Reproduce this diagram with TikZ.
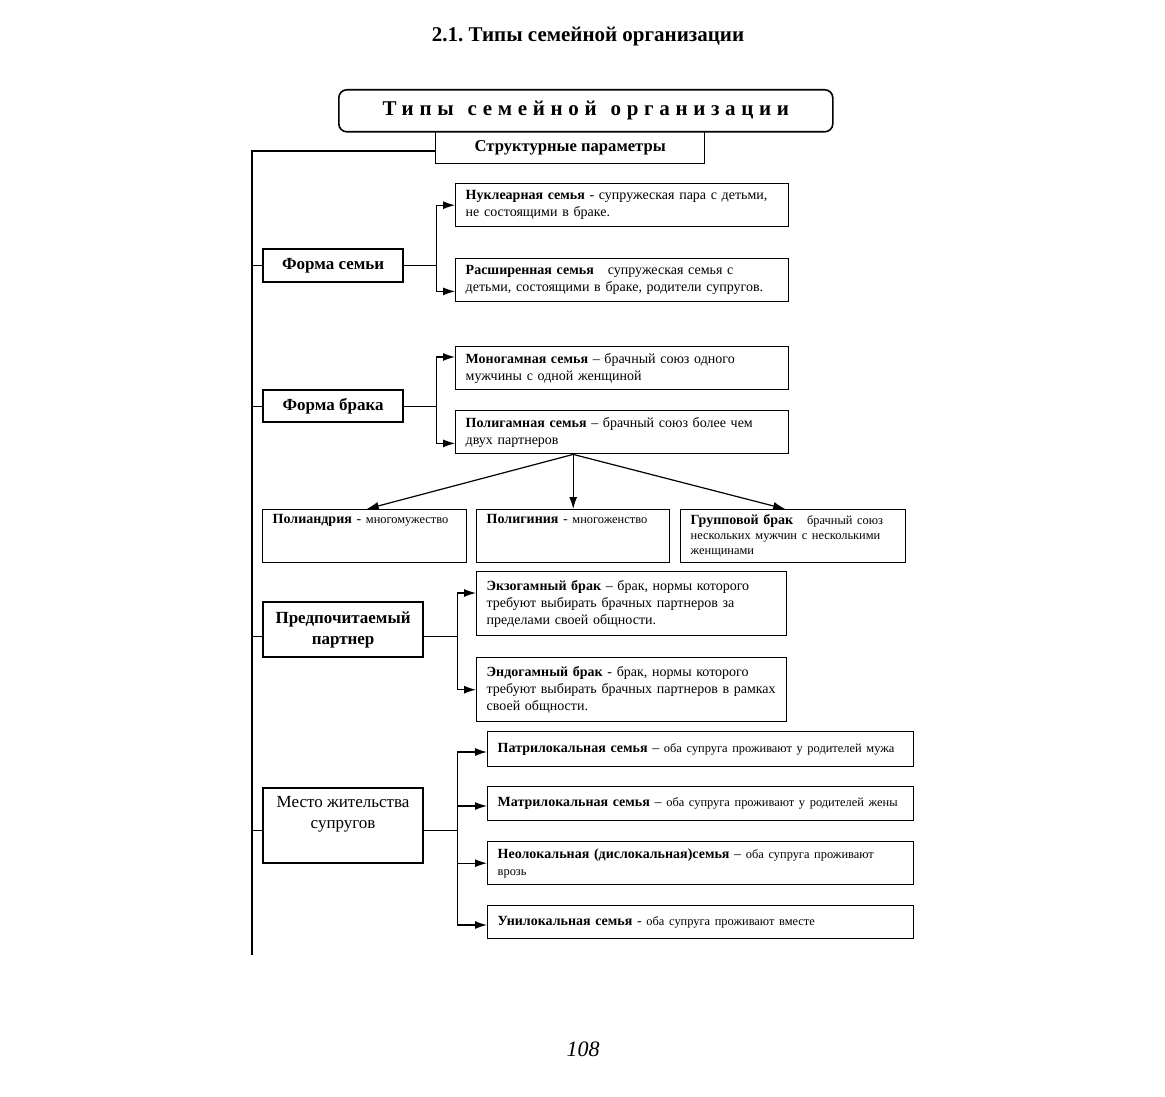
\documentclass[tikz,border=0pt]{standalone}
\usepackage{fontspec}
\setmainfont{Liberation Serif}
\newfontfamily\spacedfont[LetterSpace=27]{Liberation Serif}
\usetikzlibrary{arrows.meta,calc}
\newcommand\smtxt[1]{{\fontsize{6.2}{7.5}\selectfont #1}}
\frenchspacing
\begin{document}
\begin{tikzpicture}[x=0.5pt,y=-0.5pt,
  box/.style={draw, line width=0.7pt, anchor=north west, inner xsep=5pt, inner ysep=0pt, align=left, font=\fontsize{7}{8.4}\selectfont},
  lbl/.style={draw, line width=1.1pt, anchor=north west, inner sep=0pt, align=center, font=\fontsize{8.5}{10.5}\selectfont\bfseries},
  conn/.style={line width=0.6pt},
  arr/.style={conn, -{Latex[length=6pt,width=4pt]}}]
\useasboundingbox (0,0) rectangle (1165,1096);

\node[font=\fontsize{10.5}{12}\selectfont\bfseries] (title) at (588,37) {2.1. Типы семейной организации};
\node[font=\fontsize{11}{12}\selectfont\itshape] (page) at (583,1049) {108};

\node[draw, line width=0.8pt, rounded corners=4pt, anchor=north west, minimum width=247pt, minimum height=21pt, inner sep=0pt,
  font=\fontsize{10.5}{12}\selectfont] (top) at (338,89) {\spacedfont\bfseries Типы\hspace{7pt}семейной\hspace{7pt}организации};
\node[draw, line width=0.7pt, anchor=north west, minimum width=134.5pt, minimum height=16pt, inner sep=0pt,
  font=\fontsize{8.3}{10}\selectfont\bfseries] (struct) at (435,131) {Структурные параметры};

% label boxes
\node[lbl, minimum width=70pt, minimum height=16.5pt] (fs) at (262,248) {Форма семьи};
\node[lbl, minimum width=70pt, minimum height=16pt] (fb) at (262,389) {Форма брака};
\node[lbl, minimum width=80pt, minimum height=27.5pt] (pp) at (262,601) {Предпочитаемый\\партнер};
\node[lbl, minimum width=80pt, minimum height=37.5pt, font=\fontsize{8.5}{10.5}\selectfont] (mz) at (262,787) {Место жительства\\супругов\\\strut};

% content boxes
\node[box, text width=156.5pt, minimum height=21.5pt] (nuc) at (455,183) {\textbf{Нуклеарная семья} - супружеская пара с детьми,\\не состоящими в браке.};
\node[box, text width=156.5pt, minimum height=21.5pt] (ras) at (455,258) {\textbf{Расширенная семья}\quad супружеская семья с\\детьми, состоящими в браке, родители супругов.};
\node[box, text width=156.5pt, minimum height=21.5pt] (mono) at (455,346) {\textbf{Моногамная семья} – брачный союз одного\\мужчины с одной женщиной};
\node[box, text width=156.5pt, minimum height=21.5pt] (poly) at (455,410) {\textbf{Полигамная семья} – брачный союз более чем\\двух партнеров};

\node[box, text width=92pt, minimum height=26.5pt, font=\fontsize{7}{7.5}\selectfont] (pand) at (262,509) {\textbf{Полиандрия} - \smtxt{многомужество}\\\strut\\\strut};
\node[box, text width=86.5pt, minimum height=26.5pt, font=\fontsize{7}{7.5}\selectfont] (pgin) at (476,509) {\textbf{Полигиния} - \smtxt{многоженство}\\\strut\\\strut};
\node[box, text width=102.5pt, minimum height=26.5pt, font=\fontsize{7}{7.5}\selectfont] (grup) at (680,509) {\textbf{Групповой брак}\quad\smtxt{брачный союз}\\\smtxt{нескольких мужчин с несколькими}\\\smtxt{женщинами}};

\node[box, text width=145pt, minimum height=32pt] (exo) at (476,571) {\textbf{Экзогамный брак} – брак, нормы которого\\требуют выбирать брачных партнеров за\\пределами своей общности.};
\node[box, text width=145pt, minimum height=32pt] (endo) at (476,657) {\textbf{Эндогамный брак} - брак, нормы которого\\требуют выбирать брачных партнеров в рамках\\своей общности.};

\node[box, text width=203pt, minimum height=17.5pt] (patr) at (487,731) {\textbf{Патрилокальная семья} – \smtxt{оба супруга проживают у родителей мужа}};
\node[box, text width=203pt, minimum height=17pt] (matr) at (487,786) {\textbf{Матрилокальная семья} – \smtxt{оба супруга проживают у родителей жены}};
\node[box, text width=203pt, minimum height=21.5pt] (neo) at (487,841) {\textbf{Неолокальная (дислокальная)семья} – \smtxt{оба супруга проживают}\\\smtxt{врозь}};
\node[box, text width=203pt, minimum height=16.5pt] (uni) at (487,905) {\textbf{Унилокальная семья} - \smtxt{оба супруга проживают вместе}};

% spine
\coordinate (sTop) at (252,151);
\coordinate (sBot) at (252,955);
\draw[conn] (sTop -| struct.west) -- (sTop) -- (sBot);
\draw[conn] (sTop |- fs.west) -- (fs.west);
\draw[conn] (sTop |- fb.west) -- (fb.west);
\coordinate (ppL) at ($(pp.west)+(0,7)$);
\draw[conn] (sTop |- ppL) -- (ppL);
\coordinate (mzL) at ($(mz.west)+(0,5)$);
\draw[conn] (sTop |- mzL) -- (mzL);

% form of family
\coordinate (j1) at ($(fs.east)+(32,0)$);
\draw[conn] (fs.east) -- (j1);
\draw[arr] (j1) |- (nuc.west);
\draw[arr] (j1) |- ($(ras.south west)+(0,-11)$);

% form of marriage
\coordinate (j2) at ($(fb.east)+(32,0)$);
\draw[conn] (fb.east) -- (j2);
\draw[arr] (j2) |- ($(mono.north west)+(0,11)$);
\draw[arr] (j2) |- ($(poly.south west)+(0,-11)$);

% polygamy kinds
\coordinate (pj) at ($(poly.south)+(-49,0)$);
\draw[arr] (pj) -- ($(pand.north)+(2,0)$);
\draw[arr] (pj) -- (pj |- pgin.north);
\draw[arr] (pj) -- ($(grup.north)+(-8,0)$);

% preferred partner
\coordinate (ppR) at ($(pp.east)+(0,7)$);
\coordinate (j3) at ($(ppR)+(33,0)$);
\draw[conn] (ppR) -- (j3);
\draw[arr] (j3) |- ($(exo.north west)+(0,22)$);
\draw[arr] (j3) |- (endo.west);

% residence
\coordinate (mzR) at ($(mz.east)+(0,5)$);
\coordinate (j4) at ($(mzR)+(33,0)$);
\draw[conn] (mzR) -- (j4);
\draw[arr] (j4) |- ($(patr.north west)+(0,21)$);
\draw[arr] (j4) |- ($(matr.north west)+(0,20)$);
\draw[arr] (j4) |- (neo.west);
\draw[arr] (j4) |- ($(uni.north west)+(0,20)$);
\end{tikzpicture}
\end{document}
